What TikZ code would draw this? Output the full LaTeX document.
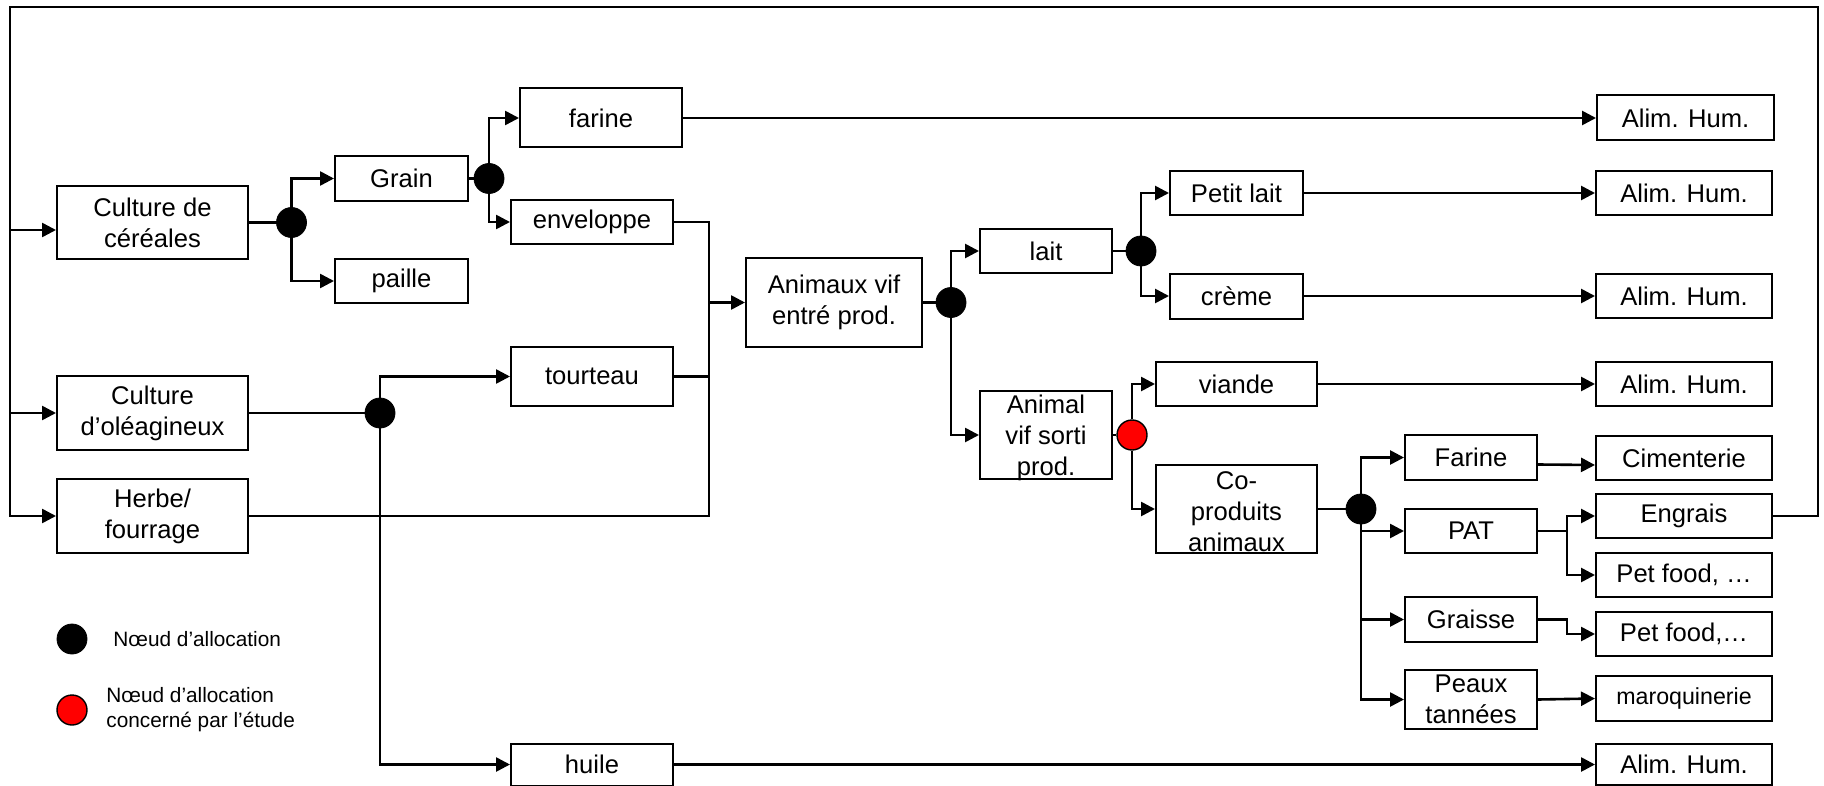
\documentclass[tikz,border=0pt]{standalone}
\usepackage{fontspec}
\setmainfont{Liberation Sans}
\usetikzlibrary{arrows.meta,calc}
\begin{document}
\begin{tikzpicture}[x=0.5pt,y=-0.5pt,
  box/.style={draw, line width=1pt, inner sep=0pt, align=center, font=\fontsize{12.8}{15.5}\selectfont},
  txt/.style={inner sep=0pt, align=center, font=\fontsize{12.8}{15.5}\selectfont},
  ln/.style={line width=1.3pt},
  arr/.style={ln, -{Triangle[length=7pt,width=7pt]}},
  dot/.style={circle, fill=black, draw=black, minimum size=15pt, inner sep=0pt},
  rdot/.style={circle, fill=red, draw=black, line width=0.7pt, minimum size=15pt, inner sep=0pt},
  leg/.style={inner sep=0pt, align=left, anchor=west, font=\fontsize{10.4}{12.5}\selectfont}
]
\useasboundingbox (0,0) rectangle (1824,786);

% boxes
\node[box, minimum width=95.5pt, minimum height=36.5pt] (cc) at (152.5,222.5) {Culture de\\céréales};
\node[box, minimum width=95.5pt, minimum height=37pt] (co) at (152.5,413) {Culture\\d’oléagineux};
\node[box, minimum width=95.5pt, minimum height=37pt] (hf) at (152.5,516) {Herbe/\\fourrage};
\node[box, minimum width=66.5pt, minimum height=22.5pt] (grain) at (401.5,178.5) {Grain};
\node[box, minimum width=66.5pt, minimum height=22pt] (paille) at (401.5,281) {paille};
\node[box, minimum width=81pt, minimum height=29.5pt] (farine) at (601,118) {farine};
\node[box, minimum width=81pt, minimum height=22pt] (env) at (592,222) {enveloppe};
\node[box, minimum width=81pt, minimum height=29.5pt] (tour) at (592,376.5) {tourteau};
\node[box, minimum width=81pt, minimum height=21pt] (huile) at (592,764.5) {huile};
\node[box, minimum width=88pt, minimum height=44.5pt] (av) at (834,302.5) {Animaux vif\\entré prod.};
\node[box, minimum width=66pt, minimum height=22pt] (lait) at (1046,251) {lait};
\node[box, minimum width=66pt, minimum height=44pt] (asp) at (1046,435) {};
\node[txt] (asp-t) at (1046,438) {Animal\\vif sorti\\prod.};
\node[box, minimum width=66.5pt, minimum height=22pt] (pl) at (1236.5,193) {Petit lait};
\node[box, minimum width=66.5pt, minimum height=22.5pt] (creme) at (1236.5,296) {crème};
\node[box, minimum width=80.5pt, minimum height=22pt] (viande) at (1236.5,384) {viande};
\node[box, minimum width=80.5pt, minimum height=44pt] (cop) at (1236.5,509) {};
\node[txt] (cop-t) at (1236.5,512) {Co-\\produits\\animaux};
\node[box, minimum width=66pt, minimum height=22.5pt] (far2) at (1471,457.5) {Farine};
\node[box, minimum width=66pt, minimum height=22pt] (pat) at (1471,531) {PAT};
\node[box, minimum width=66pt, minimum height=22.5pt] (gr) at (1471,619.5) {Graisse};
\node[box, minimum width=66pt, minimum height=29.5pt] (peaux) at (1471,699.5) {Peaux\\tannées};
\node[box, minimum width=88.5pt, minimum height=22.5pt] (a1) at (1685.5,118) {Alim. Hum.};
\node[box, minimum width=88pt, minimum height=22pt] (a2) at (1684,193) {Alim. Hum.};
\node[box, minimum width=88pt, minimum height=22pt] (a3) at (1684,296) {Alim. Hum.};
\node[box, minimum width=88pt, minimum height=22pt] (a4) at (1684,384) {Alim. Hum.};
\node[box, minimum width=88pt, minimum height=22pt] (cim) at (1684,458) {Cimenterie};
\node[box, minimum width=88pt, minimum height=22pt] (eng) at (1684,516) {Engrais};
\node[box, minimum width=88pt, minimum height=22pt] (pf1) at (1684,575) {Pet food, …};
\node[box, minimum width=88pt, minimum height=22pt] (pf2) at (1684,634) {Pet food,…};
\node[box, minimum width=88pt, minimum height=22.5pt, font=\fontsize{11.6}{14}\selectfont] (maro) at (1684,698.5) {maroquinerie};
\node[box, minimum width=88pt, minimum height=20.5pt] (a5) at (1684,764.5) {Alim. Hum.};

% allocation nodes
\node[dot] (d1) at (291.5,222.5) {};
\node[dot] (d2) at (489,178.5) {};
\node[dot] (d3) at (380,413) {};
\node[dot] (d4) at (951,302.5) {};
\node[dot] (d5) at (1141,251) {};
\node[rdot] (rd) at (1132,435) {};
\node[dot] (d6) at (1361,509) {};

% frame loop
\coordinate (tl) at (10,7);
\coordinate (tr) at (1818,7);
\coordinate (ccin) at ($(cc.west)+(0,7.5)$);
\draw[arr] (eng.east) -| (tr) -- (tl) |- (hf.west);
\draw[arr] (tl |- ccin) -- (ccin);
\draw[arr] (tl |- co.west) -- (co.west);

% cereals
\draw[ln] (cc.east) -- (d1);
\draw[arr] (d1.north) |- (grain.west);
\draw[arr] (d1.south) |- (paille.west);
\draw[ln] (grain.east) -- (d2);
\draw[arr] (d2.north) |- (farine.west);
\draw[arr] (d2.south) |- (env.west);
\draw[arr] (farine.east) -- (a1.west);

% oilseeds
\draw[ln] (co.east) -- (d3);
\draw[arr] (d3.north) |- (tour.west);
\draw[arr] (d3.south) |- (huile.west);
\draw[arr] (huile.east) -- (a5.west);

% merge into animals
\coordinate (mj) at (709,302.5);
\draw[ln] (env.east) -| (mj);
\draw[ln] (tour.east) -| (mj);
\draw[ln] (hf.east) -| (mj);
\draw[arr] (mj) -- (av.west);

% animals
\draw[ln] (av.east) -- (d4);
\draw[arr] (d4.north) |- (lait.west);
\draw[arr] (d4.south) |- (asp.west);
\draw[ln] (lait.east) -- (d5);
\draw[arr] (d5.north) |- (pl.west);
\draw[arr] (d5.south) |- (creme.west);
\draw[arr] (pl.east) -- (a2.west);
\draw[arr] (creme.east) -- (a3.west);
\draw[ln] (asp.east) -- (rd);
\draw[arr] (rd.north) |- (viande.west);
\draw[arr] (rd.south) |- (cop.west);
\draw[arr] (viande.east) -- (a4.west);

% co-products
\draw[ln] (cop.east) -- (d6);
\draw[arr] (d6.north) |- (far2.west);
\draw[arr] (d6.south) |- (pat.west);
\draw[arr] (d6.south) |- (gr.west);
\draw[arr] (d6.south) |- (peaux.west);
\draw[arr] ($(far2.east)+(0,7)$) -- ($(cim.west)+(0,7)$);
\draw[arr] (pat.east) -- ++(29,0) |- (eng.west);
\draw[arr] (pat.east) -- ++(29,0) |- (pf1.west);
\draw[arr] (gr.east) -- ++(29,0) |- (pf2.west);
\draw[arr] (peaux.east) -- (maro.west);

% legend
\node[dot] (ld1) at (72,639) {};
\node[rdot] (ld2) at (72,710) {};
\node[leg] (lt1) at (113,639) {Nœud d’allocation};
\node[leg] (lt2) at (106,710) {Nœud d’allocation\\concerné par l’étude};
\end{tikzpicture}
\end{document}
